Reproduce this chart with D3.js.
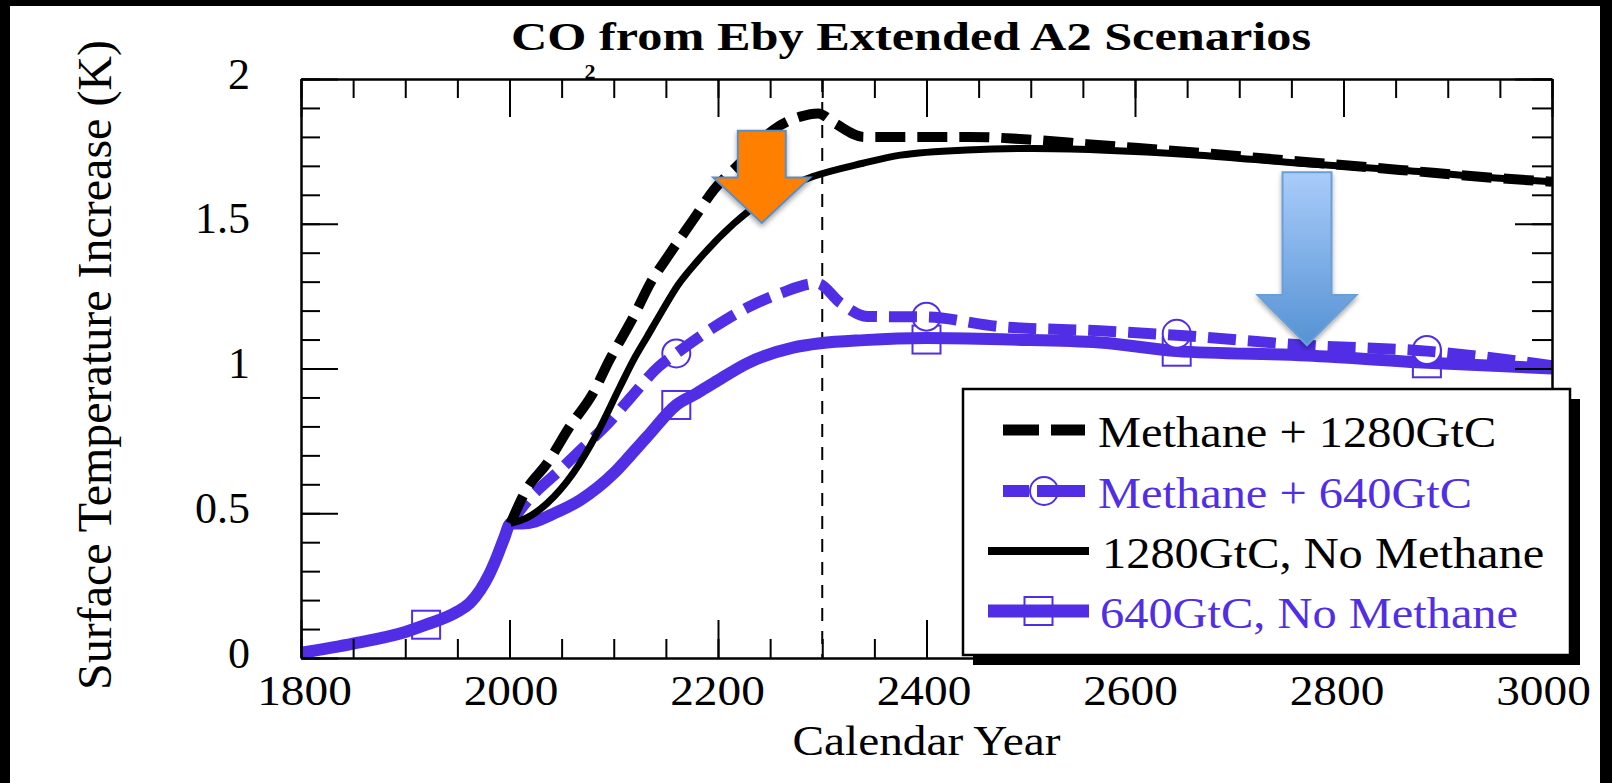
<!DOCTYPE html>
<html>
<head>
<meta charset="utf-8">
<script src="https://cdn.jsdelivr.net/npm/d3@7"></script>
<style>
  html, body { margin: 0; padding: 0; background: #000; }
  svg { display: block; }
</style>
</head>
<body>
<svg id="svg" width="1612" height="783"></svg>
<script>
// values (year, surface temperature increase in K)

// historical part, common to all four runs
const histYears = [1800, 1850, 1900, 1920, 1950, 1962, 1972, 1980, 1988, 1995, 2001];
const histTemp  = [0.018, 0.05, 0.09, 0.115, 0.16, 0.19, 0.235, 0.285, 0.35, 0.415, 0.465];

// 640GtC, No Methane
const c640Years = [2001, 2012, 2025, 2040, 2068, 2085, 2100, 2116, 2132, 2160, 2180, 2196, 2228, 2272, 2298, 2340, 2400, 2480, 2566, 2640, 2765, 2880, 3000];
const c640Temp  = [0.465, 0.465, 0.472, 0.495, 0.546, 0.59, 0.638, 0.70, 0.764, 0.874, 0.915, 0.95, 1.018, 1.072, 1.087, 1.098, 1.105, 1.10, 1.09, 1.06, 1.045, 1.02, 1.0];

// Methane + 640GtC
const m640Years = [2001, 2018, 2030, 2045, 2068, 2096, 2117, 2143, 2160, 2195, 2228, 2260, 2295, 2318, 2343, 2400, 2470, 2566, 2640, 2765, 2880, 3000];
const m640Temp  = [0.465, 0.546, 0.59, 0.638, 0.718, 0.816, 0.903, 1.006, 1.052, 1.14, 1.21, 1.26, 1.294, 1.225, 1.18, 1.178, 1.145, 1.13, 1.115, 1.08, 1.06, 1.01];

// 1280GtC, No Methane
const c1280Years = [2001, 2016, 2036, 2061, 2084, 2106, 2119, 2132, 2145, 2162, 2180, 2215, 2260, 2291, 2339, 2375, 2439, 2502, 2566, 2662, 2758, 2854, 2950, 3000];
const c1280Temp  = [0.465, 0.483, 0.534, 0.638, 0.776, 0.937, 1.03, 1.11, 1.19, 1.29, 1.37, 1.50, 1.617, 1.663, 1.709, 1.737, 1.755, 1.76, 1.755, 1.737, 1.709, 1.686, 1.657, 1.645];

// Methane + 1280GtC
const m1280Years = [2001, 2016, 2036, 2058, 2080, 2096, 2119, 2135, 2154, 2176, 2196, 2221, 2253, 2279, 2296, 2312, 2340, 2440, 2502, 2554, 2662, 2758, 2854, 2950, 3000];
const m1280Temp  = [0.465, 0.58, 0.672, 0.80, 0.914, 1.03, 1.179, 1.294, 1.398, 1.513, 1.617, 1.709, 1.824, 1.87, 1.881, 1.847, 1.80, 1.80, 1.79, 1.775, 1.745, 1.715, 1.686, 1.657, 1.645];

// markers
const squareYears = [1920, 2160, 2400, 2640, 2880];
const squareTemp  = [0.115, 0.874, 1.10, 1.058, 1.018];
const circleYears = [2160, 2400, 2640, 2880];
const circleTemp  = [1.052, 1.179, 1.12, 1.064];

// annotation arrows (year, top, neck, tip)
const arrowYears = [2242, 2765];
const arrowTop   = [1.821, 1.678];
const arrowNeck  = [1.66, 1.254];
const arrowTip   = [1.503, 1.081];

// axes
const xTickLabels = [1800, 2000, 2200, 2400, 2600, 2800, 3000];
const yTickLabels = [0, 0.5, 1, 1.5, 2];
const markerLine = 2300;

const legendLabels = ['Methane + 1280GtC', 'Methane + 640GtC', '1280GtC, No Methane', '640GtC, No Methane'];

const PURPLE = '#512ee6';
const SERIF = '"Liberation Serif", "Times New Roman", serif';

const svg = d3.select('#svg');

const x = d3.scaleLinear().domain([1800, 3000]).range([301, 1552]);
const y = d3.scaleLinear().domain([0, 2]).range([658, 79]);
// the year labels sit a little left of their ticks towards the right end
const xLabel = d3.scaleLinear().domain([1800, 3000]).range([304, 1543]);

const zip = (ys, ts) => ys.map((d, i) => [d, ts[i]]);

// background frame
svg.append('rect').attr('x', 10).attr('y', 6).attr('width', 1590).attr('height', 777).attr('fill', '#fff');

const defs = svg.append('defs');
const grad = defs.append('linearGradient').attr('id', 'blueGrad')
	.attr('x1', 0).attr('y1', 0).attr('x2', 0).attr('y2', 1);
grad.append('stop').attr('offset', '0%').attr('stop-color', '#a9ccfa');
grad.append('stop').attr('offset', '100%').attr('stop-color', '#5592d4');
const shadow = defs.append('filter').attr('id', 'shadow').attr('x', '-20%').attr('y', '-20%').attr('width', '140%').attr('height', '140%');
shadow.append('feDropShadow').attr('dx', 0).attr('dy', 3).attr('stdDeviation', 2.5).attr('flood-opacity', 0.35);

const series = [
	{ data: zip(histYears.concat(c640Years.slice(1)), histTemp.concat(c640Temp.slice(1))), color: PURPLE, width: 12, dash: null },
	{ data: zip(m640Years, m640Temp), color: PURPLE, width: 11, dash: '28 12' },
	{ data: zip(c1280Years, c1280Temp), color: '#000', width: 7, dash: null },
	{ data: zip(m1280Years, m1280Temp), color: '#000', width: 10, dash: '30 12' }
];

const line = d3.line()
	.x(d => x(d[0]))
	.y(d => y(d[1]))
	.curve(d3.curveMonotoneX);

const plot = svg.append('g');

// vertical dashed line
plot.append('line')
	.attr('x1', x(markerLine)).attr('x2', x(markerLine))
	.attr('y1', y(2)).attr('y2', y(0))
	.attr('stroke', '#000').attr('stroke-width', 2).attr('stroke-dasharray', '13 10');

function squares(g, pts, size) {
	g.selectAll(null).data(pts).enter().append('rect')
		.attr('x', d => x(d[0]) - size / 2).attr('y', d => y(d[1]) - size / 2)
		.attr('width', size).attr('height', size)
		.attr('fill', '#fff').attr('stroke', PURPLE).attr('stroke-width', 2);
}
function circles(g, pts, r) {
	g.selectAll(null).data(pts).enter().append('circle')
		.attr('cx', d => x(d[0])).attr('cy', d => y(d[1])).attr('r', r)
		.attr('fill', '#fff').attr('stroke', PURPLE).attr('stroke-width', 2);
}

series.forEach((s, i) => {
	if (i == 0) squares(plot, zip(squareYears, squareTemp), 28);
	if (i == 1) circles(plot, zip(circleYears, circleTemp), 14);
	plot.append('path')
		.datum(s.data)
		.attr('d', line)
		.attr('fill', 'none')
		.attr('stroke', s.color)
		.attr('stroke-width', s.width)
		.attr('stroke-dasharray', s.dash);
});

/* axes */
const xMinor = d3.range(1800, 3001, 50);
const yMinor = d3.range(0, 21).map(d => d / 10);

function styleAxis(g) {
	g.attr('font-family', SERIF).attr('font-size', 43);
	g.select('.domain').attr('stroke', '#000').attr('stroke-width', 2);
	g.selectAll('.tick line').attr('stroke', '#000').attr('stroke-width', 2);
}

svg.append('g').attr('transform', `translate(0,${y(0)})`)
	.call(d3.axisBottom(x).tickValues(xMinor).tickSizeInner(-19).tickSizeOuter(0).tickFormat(''))
	.call(styleAxis);
const gx = svg.append('g').attr('transform', `translate(0,${y(0)})`)
	.call(d3.axisBottom(x).tickValues(xTickLabels).tickSizeInner(-38).tickSizeOuter(0).tickFormat(d3.format('d')))
	.call(styleAxis);
gx.selectAll('text')
	.attr('y', 0).attr('dy', null).attr('x', null)
	.attr('fill', '#000')
	.attr('transform', d => `translate(${xLabel(d) - x(d)},47) scale(1.1,1)`);

svg.append('g').attr('transform', `translate(0,${y(2)})`)
	.call(d3.axisTop(x).tickValues(xMinor).tickSizeInner(-19).tickSizeOuter(0).tickFormat(''))
	.call(styleAxis);
svg.append('g').attr('transform', `translate(0,${y(2)})`)
	.call(d3.axisTop(x).tickValues(xTickLabels).tickSizeInner(-38).tickSizeOuter(0).tickFormat(''))
	.call(styleAxis);

svg.append('g').attr('transform', `translate(${x(1800)},0)`)
	.call(d3.axisLeft(y).tickValues(yMinor).tickSizeInner(-19).tickSizeOuter(0).tickFormat(''))
	.call(styleAxis);
const gy = svg.append('g').attr('transform', `translate(${x(1800)},0)`)
	.call(d3.axisLeft(y).tickValues(yTickLabels).tickSizeInner(-37).tickSizeOuter(0).tickFormat(d => d))
	.call(styleAxis);
gy.selectAll('text').attr('x', -51).attr('y', 9).attr('dy', null).attr('fill', '#000').attr('font-size', 44);

svg.append('g').attr('transform', `translate(${x(3000)},0)`)
	.call(d3.axisRight(y).tickValues(yMinor).tickSizeInner(-20).tickSizeOuter(0).tickFormat(''))
	.call(styleAxis);
svg.append('g').attr('transform', `translate(${x(3000)},0)`)
	.call(d3.axisRight(y).tickValues(yTickLabels).tickSizeInner(-37).tickSizeOuter(0).tickFormat(''))
	.call(styleAxis);

/* titles */
svg.append('text')
	.attr('x', 511).attr('y', 50)
	.attr('font-family', SERIF).attr('font-weight', 'bold').attr('font-size', 40)
	.attr('textLength', 800).attr('lengthAdjust', 'spacingAndGlyphs')
	.text('CO from Eby Extended A2 Scenarios');
// the subscript 2 sits low, right on the frame, as in the original
svg.append('text')
	.attr('x', 590).attr('y', 79).attr('text-anchor', 'middle')
	.attr('font-family', SERIF).attr('font-weight', 'bold').attr('font-size', 22)
	.text('2');

svg.append('text')
	.attr('transform', `translate(${(x(1800) + x(3000)) / 2},755) scale(1.1,1)`)
	.attr('text-anchor', 'middle')
	.attr('font-family', SERIF).attr('font-size', 43)
	.text('Calendar Year');

svg.append('text')
	.attr('transform', 'translate(111,365) rotate(-90)')
	.attr('text-anchor', 'middle')
	.attr('font-family', SERIF).attr('font-size', 48)
	.text('Surface Temperature Increase (K)');

/* arrows */
const arrows = arrowYears.map((d, i) => ({ year: d, top: arrowTop[i], neck: arrowNeck[i], tip: arrowTip[i] }));
const arrowStyle = [
	{ fill: '#ff7f00', stroke: '#5a8ec8', shaft: 48, head: 97 },
	{ fill: 'url(#blueGrad)', stroke: '#6b9fd6', shaft: 49, head: 99 }
];
svg.append('g').selectAll('path').data(arrows).enter().append('path')
	.attr('d', (a, i) => {
		const cx = x(a.year), sw = arrowStyle[i].shaft / 2, hw = arrowStyle[i].head / 2;
		return `M${cx - sw},${y(a.top)}H${cx + sw}V${y(a.neck)}H${cx + hw}L${cx},${y(a.tip)}L${cx - hw},${y(a.neck)}H${cx - sw}Z`;
	})
	.attr('fill', (a, i) => arrowStyle[i].fill)
	.attr('stroke', (a, i) => arrowStyle[i].stroke)
	.attr('stroke-width', 2)
	.attr('filter', 'url(#shadow)');

/* legend */
const lg = svg.append('g');
const box = { x: 963, y: 389, w: 607, h: 266 };
lg.append('rect').attr('x', box.x + 10).attr('y', box.y + 10).attr('width', box.w).attr('height', box.h).attr('fill', '#000');
lg.append('rect').attr('x', box.x).attr('y', box.y).attr('width', box.w).attr('height', box.h)
	.attr('fill', '#fff').attr('stroke', '#000').attr('stroke-width', 2.5);

const rowY = [430, 491, 551, 611];
const rowTextX = [1098, 1098, 1102, 1100];
const rowSample = [[1003, 1085], [1003, 1085], [988, 1089], [988, 1089]];
const legendSeries = [3, 1, 2, 0];

legendLabels.forEach((label, i) => {
	const s = series[legendSeries[i]];
	const [x0, x1] = rowSample[i];
	const mid = (x0 + x1) / 2;
	if (i == 3) lg.append('rect').attr('x', mid - 14).attr('y', rowY[i] - 14).attr('width', 28).attr('height', 28)
		.attr('fill', '#fff').attr('stroke', PURPLE).attr('stroke-width', 2);
	if (i == 1) lg.append('circle').attr('cx', mid).attr('cy', rowY[i]).attr('r', 14)
		.attr('fill', '#fff').attr('stroke', PURPLE).attr('stroke-width', 2);
	lg.append('line').attr('x1', x0).attr('x2', x1).attr('y1', rowY[i]).attr('y2', rowY[i])
		.attr('stroke', s.color).attr('stroke-width', s.width + 1)
		.attr('stroke-dasharray', i == 0 ? '36 12' : (i == 1 ? '26 8 60' : null));
	lg.append('text')
		.attr('transform', `translate(${rowTextX[i]},${rowY[i] + 17}) scale(1.1,1)`)
		.attr('font-family', SERIF).attr('font-size', 44)
		.attr('fill', s.color)
		.text(label);
});
</script>
</body>
</html>
